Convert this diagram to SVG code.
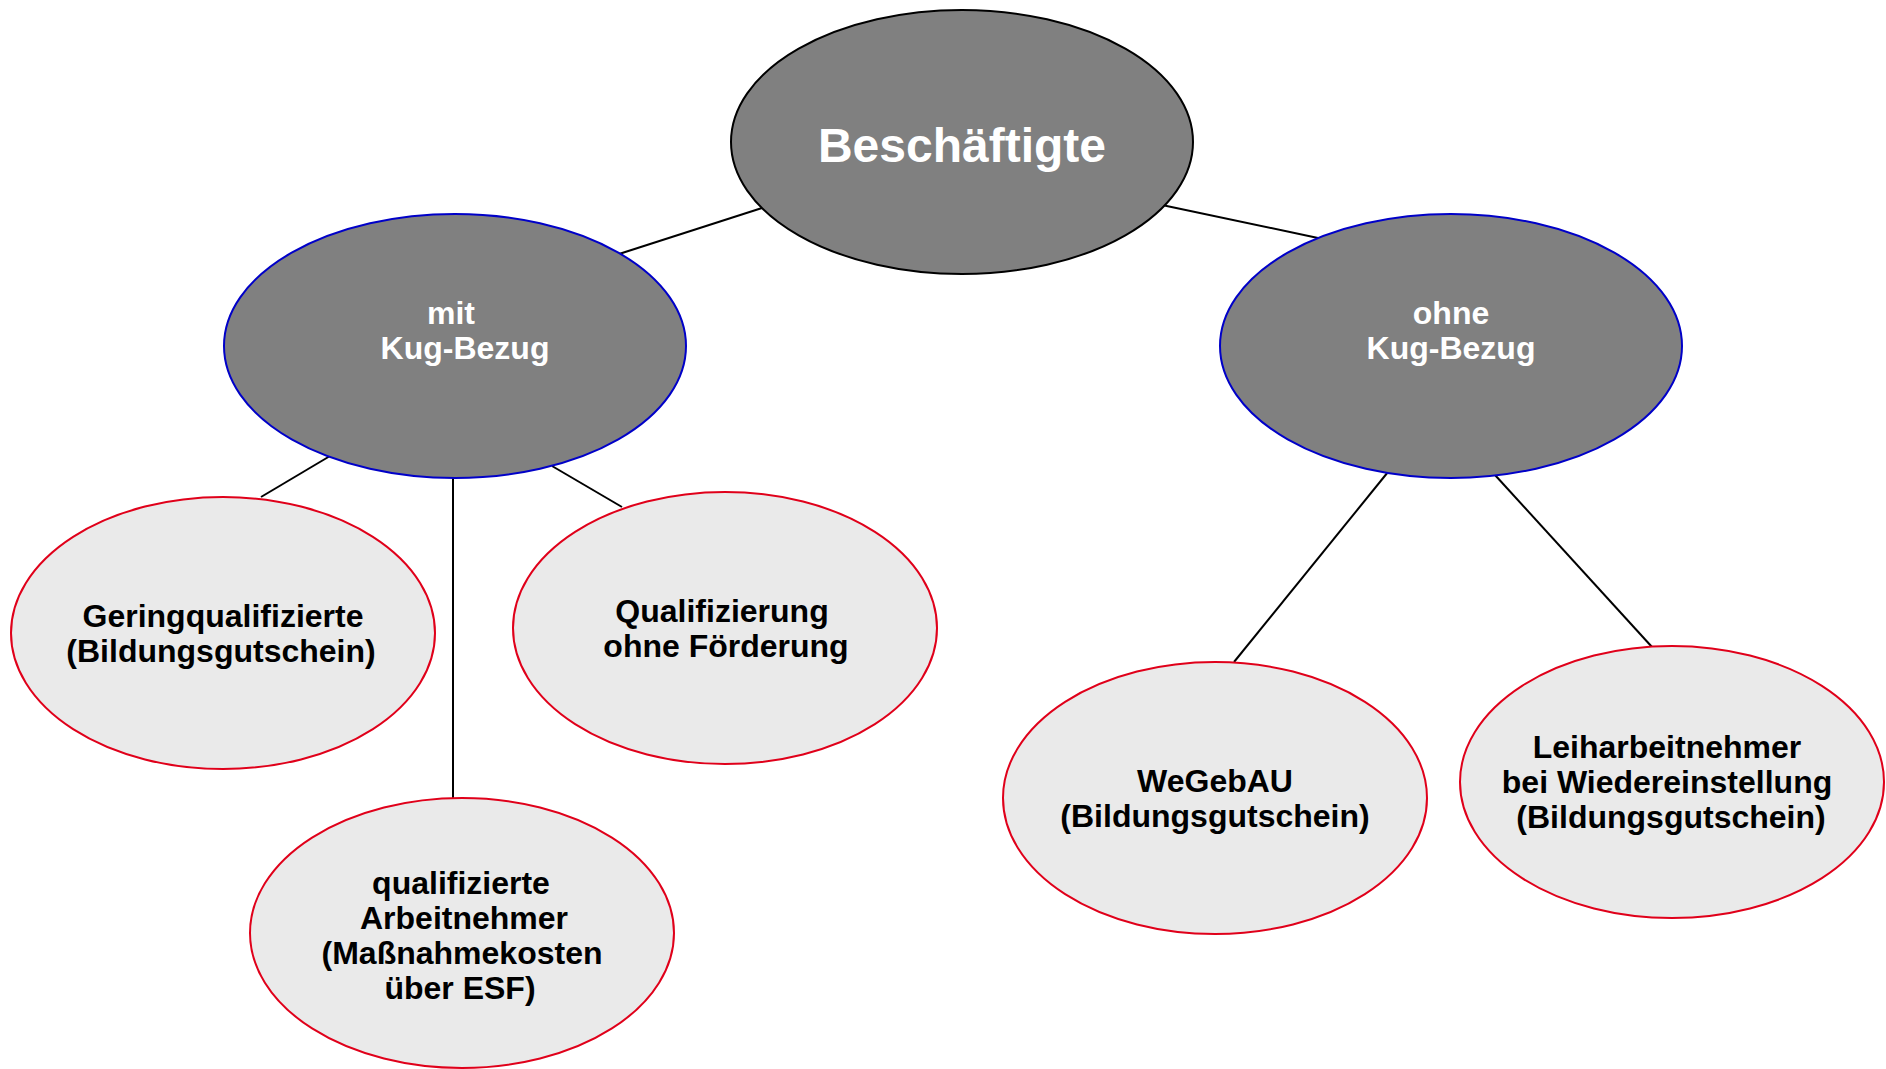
<svg xmlns="http://www.w3.org/2000/svg" width="1886" height="1069" viewBox="0 0 1886 1069">
<style>
.bg{fill:#ffffff}
.conn line{stroke:#000000;stroke-width:2;fill:none}
.top{fill:#808080;stroke:#000000;stroke-width:2}
.mid{fill:#808080;stroke:#0000c8;stroke-width:2}
.leaf{fill:#eaeaea;stroke:#e0001a;stroke-width:2}
text{font-family:"Liberation Sans",Arial,sans-serif;font-weight:bold;text-anchor:middle}
.tw{fill:#ffffff}
.tb{fill:#000000;font-size:32px}
.tm{font-size:32px}
</style>
<rect class="bg" x="0" y="0" width="1886" height="1069"/>
<g id="connectors" class="conn">
<line x1="619" y1="254" x2="762" y2="208"/>
<line x1="1162" y1="205" x2="1318" y2="238"/>
<line x1="330" y1="456" x2="261" y2="497"/>
<line x1="453" y1="476" x2="453" y2="800"/>
<line x1="552" y1="466" x2="622" y2="507"/>
<line x1="1388" y1="472" x2="1234" y2="662"/>
<line x1="1495" y1="475" x2="1652" y2="647"/>
</g>
<g id="node-beschaeftigte">
<ellipse class="top" cx="962" cy="142" rx="231" ry="132"/>
<text class="tw" x="962" y="162" font-size="48">Beschäftigte</text>
</g>
<g id="node-mit-kug">
<ellipse class="mid" cx="455" cy="346" rx="231" ry="132"/>
<text class="tw tm" x="451" y="324">mit</text>
<text class="tw tm" x="465" y="359">Kug-Bezug</text>
</g>
<g id="node-ohne-kug">
<ellipse class="mid" cx="1451" cy="346" rx="231" ry="132"/>
<text class="tw tm" x="1451" y="324">ohne</text>
<text class="tw tm" x="1451" y="359">Kug-Bezug</text>
</g>
<g id="node-geringqualifizierte">
<ellipse class="leaf" cx="223" cy="633" rx="212" ry="136"/>
<text class="tb" x="223" y="627">Geringqualifizierte</text>
<text class="tb" x="221" y="662">(Bildungsgutschein)</text>
</g>
<g id="node-qualifizierung">
<ellipse class="leaf" cx="725" cy="628" rx="212" ry="136"/>
<text class="tb" x="722" y="622">Qualifizierung</text>
<text class="tb" x="726" y="657">ohne Förderung</text>
</g>
<g id="node-qualifizierte-an">
<ellipse class="leaf" cx="462" cy="933" rx="212" ry="135"/>
<text class="tb" x="461" y="894">qualifizierte</text>
<text class="tb" x="464" y="929">Arbeitnehmer</text>
<text class="tb" x="462" y="964">(Maßnahmekosten</text>
<text class="tb" x="460" y="999">über ESF)</text>
</g>
<g id="node-wegebau">
<ellipse class="leaf" cx="1215" cy="798" rx="212" ry="136"/>
<text class="tb" x="1215" y="792">WeGebAU</text>
<text class="tb" x="1215" y="827">(Bildungsgutschein)</text>
</g>
<g id="node-leiharbeitnehmer">
<ellipse class="leaf" cx="1672" cy="782" rx="212" ry="136"/>
<text class="tb" x="1667" y="758">Leiharbeitnehmer</text>
<text class="tb" x="1667" y="793">bei Wiedereinstellung</text>
<text class="tb" x="1671" y="828">(Bildungsgutschein)</text>
</g>
</svg>
